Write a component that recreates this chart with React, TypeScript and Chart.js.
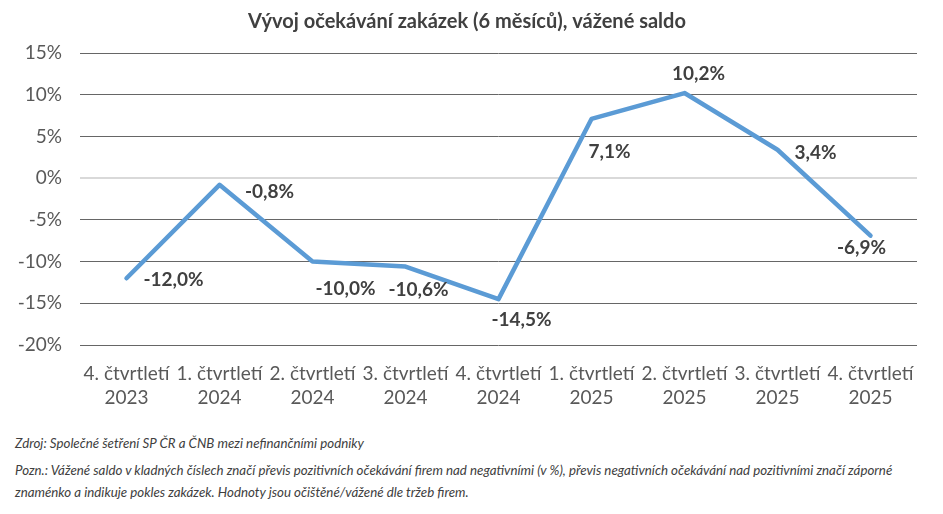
import React, { useEffect, useRef } from "react";
import { Chart, registerables } from "chart.js";

Chart.register(...registerables);

const categories: string[][] = [
  ["4. čtvrtletí", "2023"],
  ["1. čtvrtletí", "2024"],
  ["2. čtvrtletí", "2024"],
  ["3. čtvrtletí", "2024"],
  ["4. čtvrtletí", "2024"],
  ["1. čtvrtletí", "2025"],
  ["2. čtvrtletí", "2025"],
  ["3. čtvrtletí", "2025"],
  ["4. čtvrtletí", "2025"],
];
const values: number[] = [-12.0, -0.8, -10.0, -10.6, -14.5, 7.1, 10.2, 3.4, -6.9];
const yTicks: number[] = [-20, -15, -10, -5, 0, 5, 10, 15];

const titleText = "Vývoj očekávání zakázek (6 měsíců), vážené saldo";
const sourceText = "Zdroj: Společné šetření SP ČR a ČNB mezi nefinančními podniky";
const noteText =
  "Pozn.: Vážené saldo v kladných číslech značí převis pozitivních očekávání firem nad negativními (v %), převis negativních očekávání nad pozitivními značí záporné znaménko a indikuje pokles zakázek. Hodnoty jsou očištěné/vážené dle tržeb firem.";

// label placement offsets (style), relative to each point
const labelOffsets: [number, number][] = [
  [47, 2],
  [50, 7],
  [33, 27],
  [13, 23],
  [23, 21],
  [18, 33],
  [14, -19],
  [38, 3],
  [-9, 12],
];

const FONT = "Lato, 'Open Sans', sans-serif";

const fmt = (v: number) => v.toFixed(1).replace(".", ",") + "%";

const labelPlugin = {
  id: "customLabels",
  afterDatasetsDraw(chart: any) {
    const ctx = chart.ctx;
    const meta = chart.getDatasetMeta(0);
    ctx.save();
    ctx.font = `bold 19px ${FONT}`;
    ctx.fillStyle = "#404040";
    ctx.textAlign = "center";
    ctx.textBaseline = "middle";
    meta.data.forEach((pt: any, i: number) => {
      const [dx, dy] = labelOffsets[i];
      ctx.fillText(fmt(values[i]), pt.x + dx, pt.y + dy);
    });
    ctx.restore();
  },
  afterDraw(chart: any) {
    const ctx = chart.ctx;
    ctx.save();
    ctx.font = `bold 20px ${FONT}`;
    ctx.fillStyle = "#404040";
    ctx.textAlign = "center";
    ctx.textBaseline = "middle";
    ctx.fillText(titleText, 467, 22);
    ctx.restore();
  },
};

export default function App() {
  const ref = useRef<HTMLCanvasElement | null>(null);

  useEffect(() => {
    document.body.style.margin = "0";
    const canvas = ref.current;
    if (!canvas) return;
    const chart = new Chart(canvas, {
      type: "line",
      data: {
        labels: categories,
        datasets: [
          {
            data: values,
            borderColor: "#5B9BD5",
            borderWidth: 4.5,
            pointRadius: 0,
            pointHoverRadius: 0,
            borderJoinStyle: "round",
            borderCapStyle: "round",
            tension: 0,
            fill: false,
          },
        ],
      },
      options: {
        responsive: false,
        animation: false,
        events: [],
        layout: { padding: { top: 53, right: 26, left: 0, bottom: 0 } },
        plugins: {
          legend: { display: false },
          title: { display: false },
          tooltip: { enabled: false },
        },
        scales: {
          x: {
            offset: true,
            grid: { display: false, drawTicks: false },
            border: { display: false },
            afterFit: (s: any) => {
              s.height = 75;
            },
            ticks: {
              autoSkip: false,
              maxRotation: 0,
              minRotation: 0,
              padding: 17,
              color: "#595959",
              font: { family: FONT, size: 19, lineHeight: 1.25 },
            },
          },
          y: {
            min: -20,
            max: 15,
            afterFit: (s: any) => {
              s.width = 80;
            },
            afterBuildTicks: (s: any) => {
              s.ticks = yTicks.map((v) => ({ value: v }));
            },
            grid: {
              drawTicks: false,
              color: (c: any) => (c.tick && c.tick.value === 0 ? "#D9D9D9" : "#666666"),
              lineWidth: (c: any) => (c.tick && c.tick.value === 0 ? 2 : 1),
            },
            border: { display: false },
            ticks: {
              padding: 18,
              color: "#595959",
              font: { family: FONT, size: 19 },
              callback: (v: any) => `${v}%`,
            },
          },
        },
      },
      plugins: [labelPlugin],
    });
    return () => chart.destroy();
  }, []);

  const noteStyle: React.CSSProperties = {
    position: "absolute",
    left: 15,
    width: 920,
    fontFamily: FONT,
    fontStyle: "italic",
    fontSize: 13.3,
    color: "#404040",
    lineHeight: "22px",
    margin: 0,
  };

  return (
    <div style={{ position: "relative", width: 943, height: 514, background: "#fff" }}>
      <canvas ref={ref} width={943} height={420} style={{ display: "block" }} />
      <div style={{ ...noteStyle, top: 432 }}>{sourceText}</div>
      <div style={{ ...noteStyle, top: 459 }}>{noteText}</div>
    </div>
  );
}
